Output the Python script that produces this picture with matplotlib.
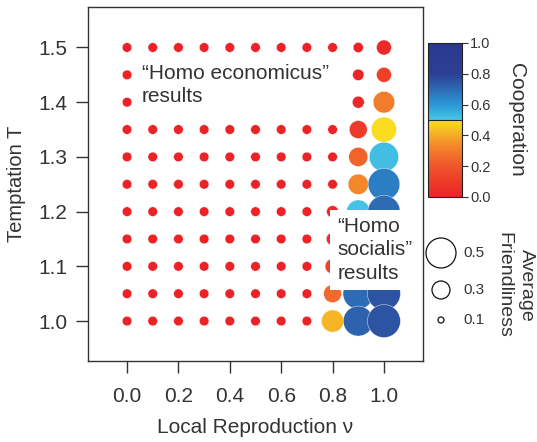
import numpy as np
import matplotlib
matplotlib.use('Agg')
import matplotlib.pyplot as plt
from matplotlib.colors import LinearSegmentedColormap

# ============ Dataset ============
nu_values = [0.0, 0.1, 0.2, 0.3, 0.4, 0.5, 0.6, 0.7, 0.8, 0.9, 1.0]
T_values = [1.0, 1.05, 1.1, 1.15, 1.2, 1.25, 1.3, 1.35, 1.4, 1.45, 1.5]

# rows = T (1.0 -> 1.5), columns = nu (0.0 -> 1.0)
friendliness = [
    [0.16, 0.16, 0.16, 0.16, 0.16, 0.16, 0.16, 0.16, 0.37, 0.50, 0.55],
    [0.16, 0.16, 0.16, 0.16, 0.16, 0.16, 0.16, 0.16, 0.30, 0.51, 0.55],
    [0.16, 0.16, 0.16, 0.16, 0.16, 0.16, 0.16, 0.16, 0.25, 0.51, 0.55],
    [0.16, 0.16, 0.16, 0.16, 0.16, 0.16, 0.16, 0.16, 0.21, 0.47, 0.54],
    [0.16, 0.16, 0.16, 0.16, 0.16, 0.16, 0.16, 0.16, 0.20, 0.39, 0.54],
    [0.16, 0.16, 0.16, 0.16, 0.16, 0.16, 0.16, 0.16, 0.16, 0.34, 0.53],
    [0.16, 0.16, 0.16, 0.16, 0.16, 0.16, 0.16, 0.16, 0.16, 0.32, 0.49],
    [0.16, 0.16, 0.16, 0.16, 0.16, 0.16, 0.16, 0.16, 0.16, 0.30, 0.42],
    [0.16, 0.16, 0.16, 0.16, 0.16, 0.16, 0.16, 0.16, 0.16, 0.20, 0.36],
    [0.16, 0.16, 0.16, 0.16, 0.16, 0.16, 0.16, 0.16, 0.16, 0.19, 0.25],
    [0.16, 0.16, 0.16, 0.16, 0.16, 0.16, 0.16, 0.16, 0.16, 0.17, 0.25],
]
cooperation = [
    [0.0, 0.0, 0.0, 0.0, 0.0, 0.0, 0.0, 0.0, 0.42, 0.72, 0.75],
    [0.0, 0.0, 0.0, 0.0, 0.0, 0.0, 0.0, 0.0, 0.25, 0.70, 0.75],
    [0.0, 0.0, 0.0, 0.0, 0.0, 0.0, 0.0, 0.0, 0.14, 0.70, 0.74],
    [0.0, 0.0, 0.0, 0.0, 0.0, 0.0, 0.0, 0.0, 0.05, 0.65, 0.73],
    [0.0, 0.0, 0.0, 0.0, 0.0, 0.0, 0.0, 0.0, 0.03, 0.51, 0.70],
    [0.0, 0.0, 0.0, 0.0, 0.0, 0.0, 0.0, 0.0, 0.0, 0.33, 0.66],
    [0.0, 0.0, 0.0, 0.0, 0.0, 0.0, 0.0, 0.0, 0.0, 0.24, 0.52],
    [0.0, 0.0, 0.0, 0.0, 0.0, 0.0, 0.0, 0.0, 0.0, 0.10, 0.49],
    [0.0, 0.0, 0.0, 0.0, 0.0, 0.0, 0.0, 0.0, 0.0, 0.02, 0.30],
    [0.0, 0.0, 0.0, 0.0, 0.0, 0.0, 0.0, 0.0, 0.0, 0.01, 0.12],
    [0.0, 0.0, 0.0, 0.0, 0.0, 0.0, 0.0, 0.0, 0.0, 0.0, 0.03],
]

legend_friendliness = [0.5, 0.3, 0.1]

plt.rcParams['font.family'] = ['Liberation Sans', 'DejaVu Sans']
TXT = '#333333'

# ============ Colormap (discontinuous at 0.5) ============
cmap = LinearSegmentedColormap.from_list('coop', [
    (0.0, '#ec2227'), (0.2, '#ef552b'), (0.35, '#f4902b'), (0.5, '#f9e01f'),
    (0.5, '#48c8e8'), (0.6, '#2a98d5'), (0.7, '#2d6cb5'), (0.8, '#2c3f93'),
    (1.0, '#2b3990')])


def size_of(f):
    d = 60 * f * 0.72  # marker diameter in points
    return d ** 2


# ============ Figure ============
fig = plt.figure(figsize=(5.37, 4.42), dpi=100)
ax = fig.add_axes([88 / 537, 81 / 442, 335 / 537, 354 / 442])

X, Y = np.meshgrid(nu_values, T_values)
F = np.array(friendliness)
C = np.array(cooperation)
# draw higher T first so lower rows sit on top
X, Y, F, C = X[::-1].ravel(), Y[::-1].ravel(), F[::-1].ravel(), C[::-1].ravel()
sc = ax.scatter(X, Y, s=size_of(F), c=C, cmap=cmap, vmin=0, vmax=1,
                edgecolors='white', linewidths=0.3, zorder=2)

ax.set_xlim(-0.152, 1.152)
ax.set_ylim(0.927, 1.574)
ax.set_xticks([0.0, 0.2, 0.4, 0.6, 0.8, 1.0])
ax.set_yticks([1.0, 1.1, 1.2, 1.3, 1.4, 1.5])
ax.set_xticklabels(['0.0', '0.2', '0.4', '0.6', '0.8', '1.0'])
ax.set_yticklabels(['1.0', '1.1', '1.2', '1.3', '1.4', '1.5'])
ax.tick_params(direction='out', length=8.6, width=1.0, colors=TXT, labelsize=15)
ax.tick_params(axis='x', pad=10)
ax.tick_params(axis='y', pad=6)
for sp in ax.spines.values():
    sp.set_color(TXT)
    sp.set_linewidth(1.0)

ax.set_xlabel('Local Reproduction \u03bd', fontsize=15, color=TXT, labelpad=9)
ax.set_ylabel('Temptation T', fontsize=14.5, color=TXT, labelpad=9)

# ============ Annotations ============
ax.text(0.058, 1.431, '\u201cHomo economicus\u201d\nresults', fontsize=15, color=TXT,
        ha='left', va='center', linespacing=1.3,
        bbox=dict(boxstyle='square,pad=0.45', facecolor='white', edgecolor='none'),
        zorder=3)
ax.text(0.818, 1.130, '\u201cHomo\nsocialis\u201d\nresults', fontsize=15, color=TXT,
        ha='left', va='center', linespacing=1.3,
        bbox=dict(boxstyle='square,pad=0.33', facecolor='white', edgecolor='none'),
        zorder=3)

# ============ Colorbar ============
cax = fig.add_axes([428 / 537, (442 - 197) / 442, 34 / 537, 154 / 442])
cbar = fig.colorbar(sc, cax=cax)
cbar.set_ticks([0.0, 0.2, 0.4, 0.6, 0.8, 1.0])
cbar.set_ticklabels(['0.0', '0.2', '0.4', '0.6', '0.8', '1.0'])
cbar.ax.tick_params(direction='out', length=4, width=0.8, colors=TXT, labelsize=10.5, pad=2)
cbar.outline.set_linewidth(0.8)
cbar.outline.set_edgecolor('#222222')
cax.axhline(0.5, color='#222222', lw=0.8)
fig.text(517 / 537, 1 - 120 / 442, 'Cooperation', rotation=270, fontsize=15,
         color=TXT, ha='center', va='center')

# ============ Size legend ============
lax = fig.add_axes([0, 0, 1, 1], zorder=-1)
lax.set_xlim(0, 537)
lax.set_ylim(442, 0)
lax.axis('off')
for f, yy in zip(legend_friendliness, [253, 290, 320]):
    lax.scatter([441], [yy], s=size_of(f), facecolors='none', edgecolors='#111111',
                linewidths=0.9)
    lax.text(463, yy, f'{f:.1f}', fontsize=11, color=TXT, ha='left', va='center')
fig.text(515 / 537, 1 - 285 / 442, 'Average\nFriendliness', rotation=270, fontsize=14,
         color=TXT, ha='center', va='center', multialignment='center', linespacing=1.4)

fig.savefig('out.png', dpi=100)
